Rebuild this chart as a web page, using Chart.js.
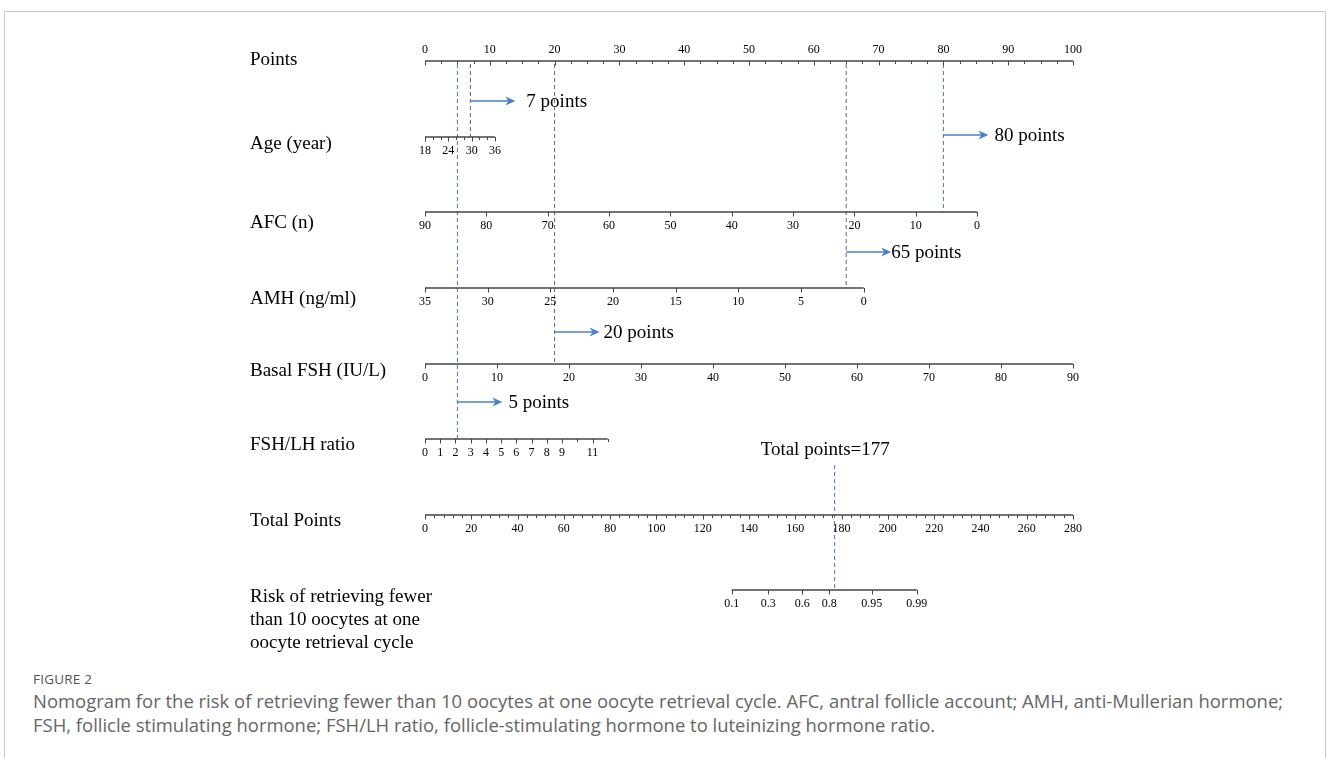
<!DOCTYPE html>
<html><head><meta charset="utf-8">
<script src="https://cdn.jsdelivr.net/npm/chart.js@4.4.0/dist/chart.umd.min.js"></script>
<style>
html,body{margin:0;padding:0;background:#fff;width:1328px;height:758px;overflow:hidden;}
#frame{position:absolute;left:4px;top:11px;width:1322px;height:800px;border:1px solid #c8c8c8;box-sizing:border-box;}
#c{position:absolute;left:0;top:0;}
#fig{position:absolute;left:33px;top:670px;font-family:"Open Sans";font-size:13.5px;color:#555;letter-spacing:0.2px;}
#cap{position:absolute;left:33px;top:689px;font-family:"Open Sans";color:#666;font-size:17px;line-height:23.5px;white-space:nowrap;}
</style></head><body>
<div id="frame"></div>
<canvas id="c" width="1328" height="665"></canvas>
<div id="fig">FIGURE 2</div>
<div id="cap"><span id="l1">Nomogram for the risk of retrieving fewer than 10 oocytes at one oocyte retrieval cycle. AFC, antral follicle account; AMH, anti-Mullerian hormone;</span><br><span>FSH, follicle stimulating hormone; FSH/LH ratio, follicle-stimulating hormone to luteinizing hormone ratio.</span></div>
<script>
// ---------- DATA ----------
const rowNames = ['Points','Age (year)','AFC (n)','AMH (ng/ml)','Basal FSH (IU/L)','FSH/LH ratio','Total Points',
  ['Risk of retrieving fewer','than 10 oocytes at one','oocyte retrieval cycle']];
const pointsLabels = [0,10,20,30,40,50,60,70,80,90,100];
const ageTicks = [18,20,22,24,26,28,30,32,34,36];
const ageLabels = [18,24,30,36];
const afcLabels = [90,80,70,60,50,40,30,20,10,0];
const amhLabels = [35,30,25,20,15,10,5,0];
const fshLabels = [0,10,20,30,40,50,60,70,80,90];
const fshlhTicks = [0,1,2,3,4,5,6,7,8,9,10,11,12];
const fshlhLabels = [0,1,2,3,4,5,6,7,8,9,11];
const totalLabels = [0,20,40,60,80,100,120,140,160,180,200,220,240,260,280];
const riskLabels = ['0.1','0.3','0.6','0.8','0.95','0.99'];
const riskTotalPoints = [132.5,148.3,163.0,174.7,193.0,212.5];
// axis end-points: value at 0 points, value at far end, points at far end
const ageEnds   = [18, 36, 10.8];
const afcEnds   = [90, 0, 85.2];
const amhEnds   = [35, 0, 67.7];
const fshEnds   = [0, 90, 100];
const fshlhEnds = [0, 12, 28.2];
const totalEnds = [0, 280, 100];
// example patient
const patientPoints = [7, 80, 65, 20, 5];   // Age, AFC, AMH, FSH, FSH/LH
const totalPointsValue = 177;
const pointsMinorStep = 2.5;
const totalMinorStep = 4;

// ---------- LAYOUT ----------
const ROW_Y = [61,137,212,288,364,439,515,590];
const LABEL_Y = [60,144,223,299,371,445,521,597];
const LABEL_X = 250;
const ARROW_Y = [101,135,252,332,402];
const ARROW_GAP = [11,6,0,4,6];
const GUIDE_END_ROW = [1,2,3,4,5];  // row index where each guide stops
const GUIDE_COLOR = ['#666','#3f78d0','#666','#666','#3f78d0'];
const BLUE = '#4a7fcc';
const AXIS_COLOR = '#444';
const SERIF = '"Liberation Serif","Times New Roman",serif';

function lin(ends){ return v => (v-ends[0])/(ends[1]-ends[0])*ends[2]; }
const toPts = [v=>v, lin(ageEnds), lin(afcEnds), lin(amhEnds), lin(fshEnds), lin(fshlhEnds), lin(totalEnds)];
const totalToPts = toPts[6];
function steps(a,b,s){const r=[];for(let v=a;v<=b+1e-9;v+=s)r.push(+v.toFixed(4));return r;}

const axesDef = [
  {row:0, ticks: steps(0,100,pointsMinorStep), labels: pointsLabels, map: toPts[0], above:true},
  {row:1, ticks: ageTicks, labels: ageLabels, map: toPts[1]},
  {row:2, ticks: afcLabels, labels: afcLabels, map: toPts[2]},
  {row:3, ticks: amhLabels, labels: amhLabels, map: toPts[3]},
  {row:4, ticks: fshLabels, labels: fshLabels, map: toPts[4]},
  {row:5, ticks: fshlhTicks, labels: fshlhLabels, map: toPts[5]},
  {row:6, ticks: steps(0,280,totalMinorStep), labels: totalLabels, map: toPts[6]},
  {row:7, ticks: riskTotalPoints, labels: riskLabels, map: totalToPts, textLabels:true}
];

// datasets: axis lines
const datasets = [];
axesDef.forEach(a=>{
  const xs = a.ticks.map(a.map);
  datasets.push({type:'line', data:[{x:Math.min(...xs),y:ROW_Y[a.row]},{x:Math.max(...xs),y:ROW_Y[a.row]}],
    borderColor:AXIS_COLOR, borderWidth:1.4, pointRadius:0, fill:false});
});
// guides
patientPoints.forEach((p,i)=>{
  datasets.push({type:'line', data:[{x:p,y:64},{x:p,y:ROW_Y[GUIDE_END_ROW[i]]}],
    borderColor:GUIDE_COLOR[i], borderWidth:1, borderDash:[4,3], pointRadius:0, fill:false});
});
datasets.push({type:'line', data:[{x:totalToPts(totalPointsValue),y:465},{x:totalToPts(totalPointsValue),y:ROW_Y[7]}],
  borderColor:'#3f78d0', borderWidth:1, borderDash:[4,3], pointRadius:0, fill:false});

const nomoPlugin = {
  id:'nomo',
  afterDatasetsDraw(chart){
    const ctx = chart.ctx, X = chart.scales.x, Y = chart.scales.y;
    ctx.save();
    // row labels
    ctx.fillStyle = '#000'; ctx.font = '19px '+SERIF; ctx.textBaseline='middle'; ctx.textAlign='left';
    rowNames.forEach((n,i)=>{
      if(Array.isArray(n)) n.forEach((s,k)=>ctx.fillText(s, LABEL_X, LABEL_Y[i]+k*23));
      else ctx.fillText(n, LABEL_X, LABEL_Y[i]);
    });
    // ticks and tick labels
    ctx.strokeStyle = AXIS_COLOR; ctx.lineWidth = 1;
    ctx.font = '12px '+SERIF; ctx.textAlign='center';
    axesDef.forEach(a=>{
      const y = Y.getPixelForValue(ROW_Y[a.row]);
      a.ticks.forEach(t=>{
        const x = Math.round(X.getPixelForValue(a.map(t)))+0.5;
        const major = a.labels.includes(t) || a.textLabels;
        ctx.beginPath(); ctx.moveTo(x,y); ctx.lineTo(x,y+(major?4.5:3)); ctx.stroke();
      });
      a.labels.forEach((l,k)=>{
        const v = a.textLabels ? a.ticks[k] : l;
        const x = X.getPixelForValue(a.map(v));
        ctx.fillText(String(l), x, a.above ? y-11 : y+14);
      });
    });
    // arrows
    ctx.strokeStyle = BLUE; ctx.fillStyle = BLUE; ctx.lineWidth = 1.7;
    patientPoints.forEach((p,i)=>{
      const x0 = X.getPixelForValue(p), y = ARROW_Y[i], x1 = x0+45;
      ctx.beginPath(); ctx.moveTo(x0,y); ctx.lineTo(x1-6,y); ctx.stroke();
      ctx.beginPath(); ctx.moveTo(x1,y); ctx.lineTo(x1-10,y-4.5); ctx.lineTo(x1-7,y); ctx.lineTo(x1-10,y+4.5); ctx.closePath(); ctx.fill();
      ctx.save(); ctx.fillStyle='#000'; ctx.font='19px '+SERIF; ctx.textAlign='left';
      ctx.fillText(p+' points', x1+ARROW_GAP[i], y+1); ctx.restore();
    });
    ctx.fillStyle='#000'; ctx.font='19px '+SERIF; ctx.textAlign='left';
    ctx.fillText('Total points='+totalPointsValue, X.getPixelForValue(totalToPts(totalPointsValue))-74, 450);
    ctx.restore();
  }
};

new Chart(document.getElementById('c'), {
  type:'line',
  data:{datasets},
  options:{
    responsive:false, animation:false, events:[],
    layout:{padding:{left:425,right:255,top:0,bottom:0}},
    scales:{
      x:{type:'linear', min:0, max:100, display:false},
      y:{type:'linear', min:0, max:665, reverse:true, display:false}
    },
    plugins:{legend:{display:false}, tooltip:{enabled:false}}
  },
  plugins:[nomoPlugin]
});

// fit caption width to reference
const l1 = document.getElementById('l1');
const w = l1.getBoundingClientRect().width;
const cap = document.getElementById('cap');
cap.style.fontSize = (17*1251/w)+'px';
</script>
</body></html>
